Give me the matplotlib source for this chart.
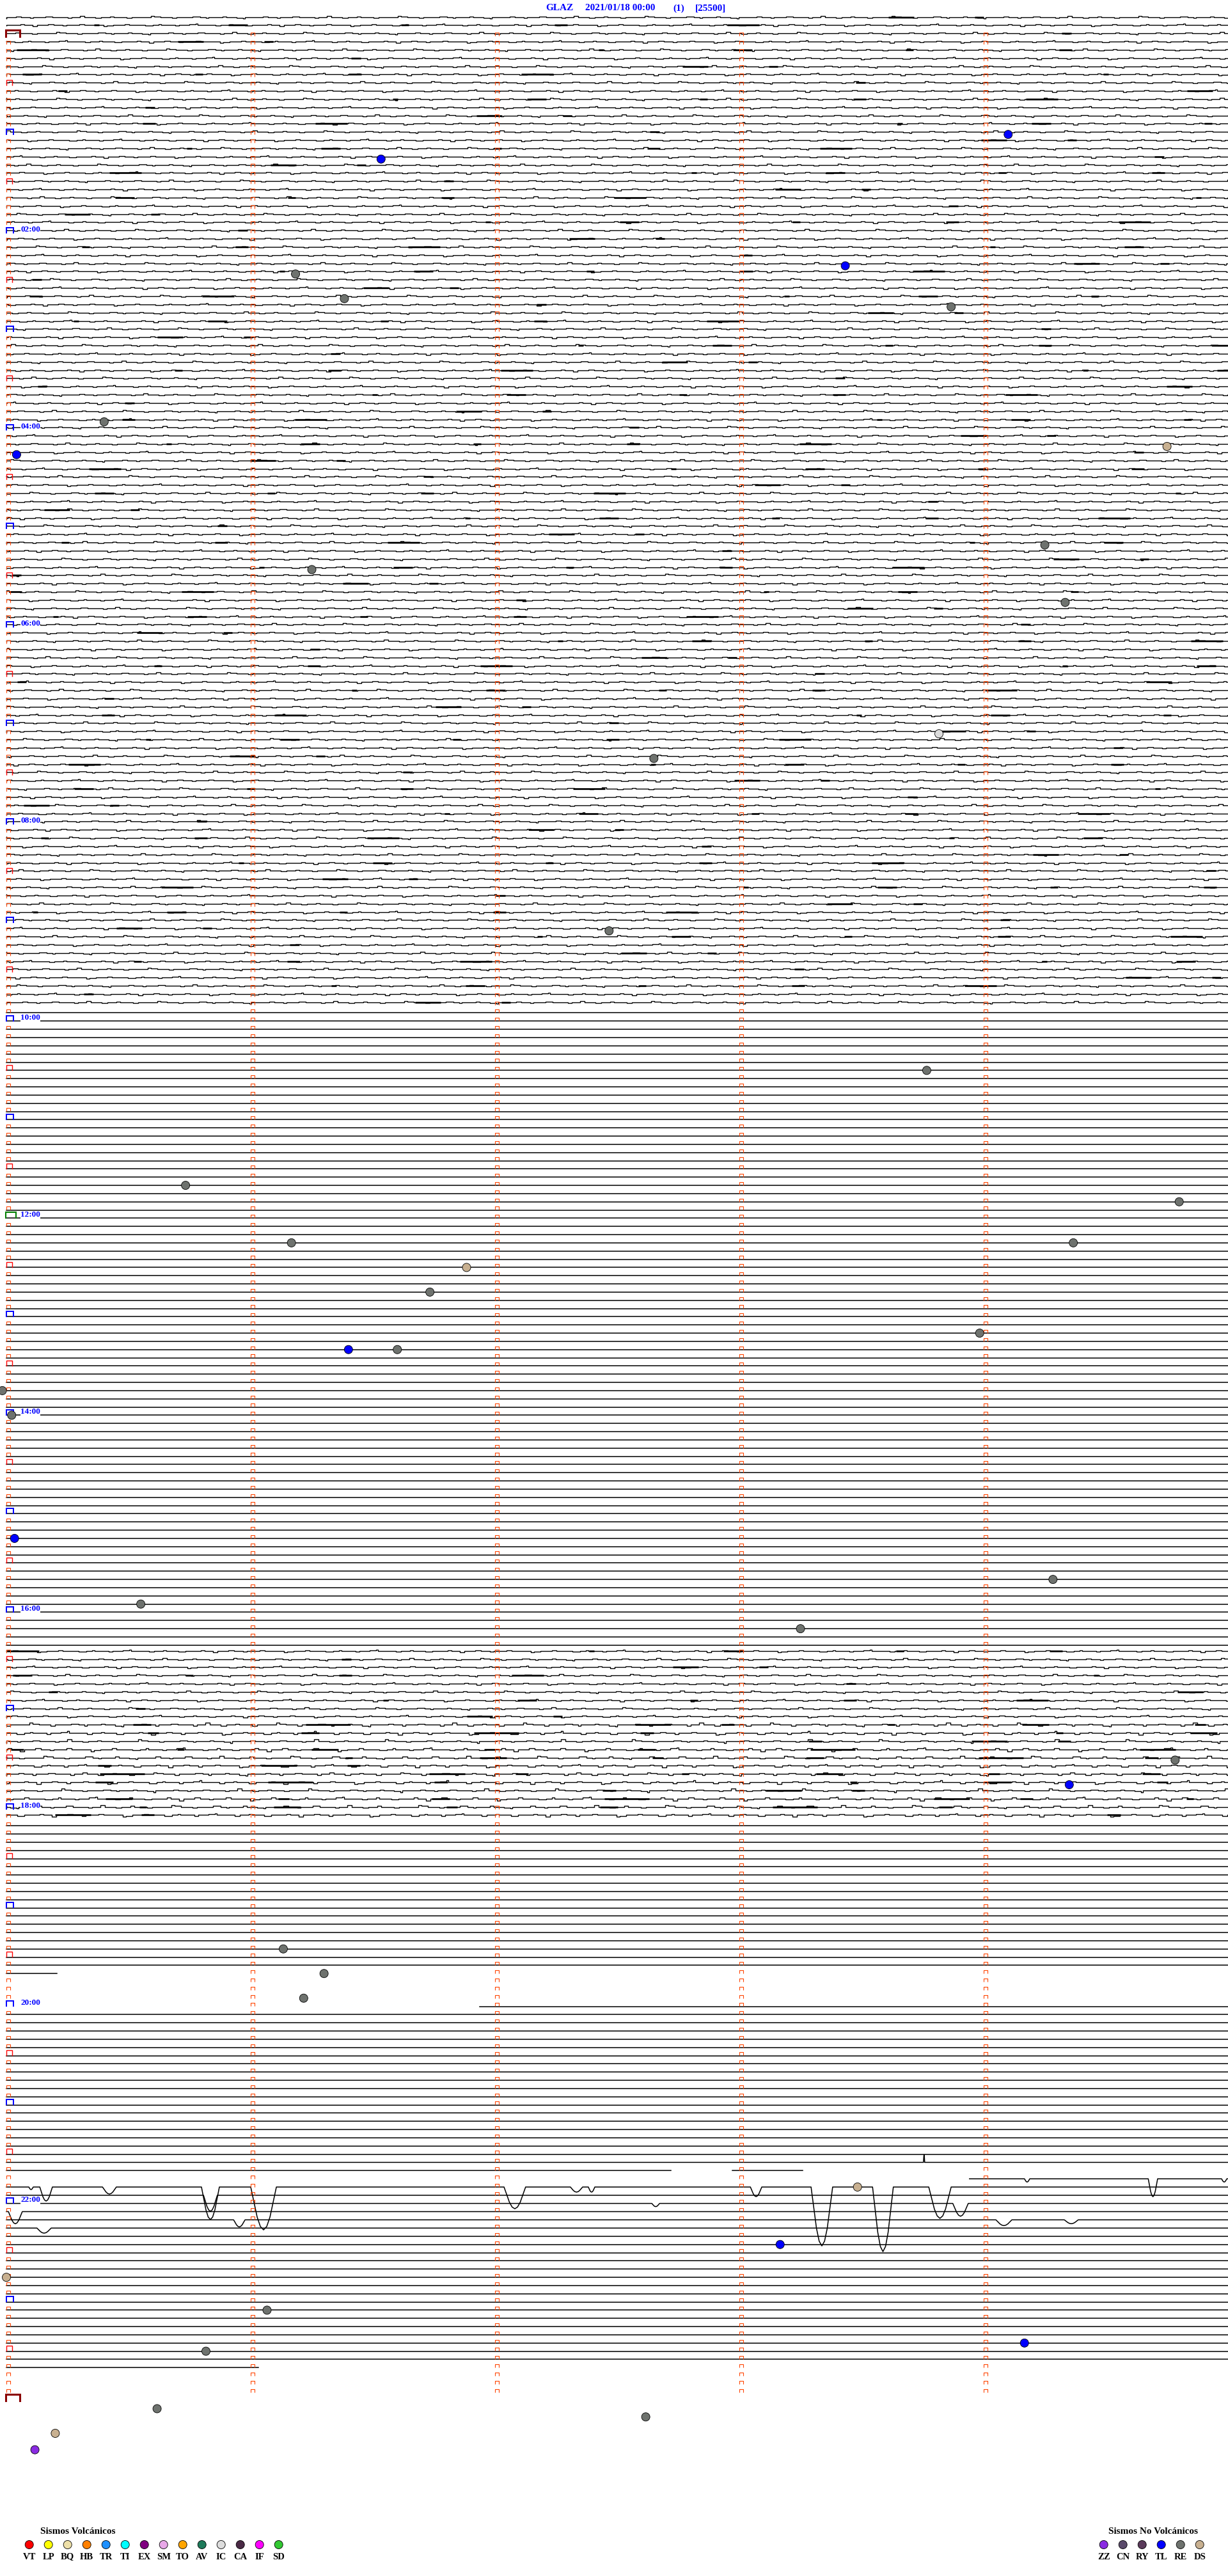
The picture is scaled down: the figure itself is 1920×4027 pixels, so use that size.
import matplotlib
matplotlib.use("Agg")
import matplotlib.pyplot as plt
from matplotlib.collections import LineCollection

W, H, DPI = 1920, 4027, 100
PX_PER_SEC = 6.367      # 382 px per minute, one line = 5 minutes
PX_PER_LINE = 12.835
X0_PX, Y0_PX = 10, 51   # start of minute 0 / centre of line 0 (00:00)

TITLE_PARTS = ["GLAZ", "2021/01/18 00:00", "(1)", "[25500]"]
TITLE_X = [853, 915, 1052, 1087]

FIRST_LINE, LAST_LINE = -2, 287          # line 0 = 00:00, 288 = 24:00
HOUR_LINES = [24, 48, 72, 96, 120, 144, 168, 192, 216, 240, 264]
HOUR_LABELS = ["02:00", "04:00", "06:00", "08:00", "10:00", "12:00",
               "14:00", "16:00", "18:00", "20:00", "22:00"]

# blocks of lines with visible noise: (first, last, relative amplitude)
NOISY_BLOCKS = [(-2, 118, 1.0), (197, 205, 1.0), (206, 217, 1.4)]

# lines where data do not cover the whole 5 minutes (seconds)
TRACE_SEGMENTS = {
    236: [(0, 12.4)], 237: [], 238: [], 239: [],
    240: [(116.2, 300)],
    260: [(0, 163.2), (178.3, 195.6)],
    261: [(236.5, 300)],
    284: [(0, 61.9)], 285: [], 286: [], 287: [],
}

# step pattern (px widths / px offsets)
NOISE_WIDTHS = [14, 6, 20, 8, 30, 5, 10, 18, 7, 25, 12, 9, 4, 22, 6,
                16, 10, 3, 28, 8, 14, 5, 19, 11, 24, 6, 13, 7, 17, 9]
NOISE_LEVELS = [0, -1, 0, 1, 0, -2, -1, 0, 1, 0, -1, 0, 1, 0, -1,
                0, 1, 2, 0, -1, 0, 1, 0, -1, 0, 1, 0, -2, 0, 1]
BURST_START = [5, 140, 400, 610, 880, 1120, 1390, 1650]
BURST_LEN = [40, 14, 8, 30, 12, 20, 50, 15]

# long period arrivals around 22:00: line, start s, end s, depth (lines)
DIP_LINE = [262, 262, 262, 262, 263, 262, 262, 262, 262, 262, 262, 262,
            262, 261, 261, 261, 264, 264, 265, 266, 266, 266, 267, 259]
DIP_START = [5.5, 8.2, 23.6, 47.9, 48.4, 60.0, 122.2, 138.5, 142.9, 182.7,
             197.6, 212.7, 226.5, 250.0, 280.4, 298.4, 158.5, 232.4, 0.5,
             55.8, 243.0, 259.8, 7.5, 225.2]
DIP_END = [6.6, 11.3, 27.0, 52.3, 51.8, 66.3, 127.5, 141.5, 144.5, 185.5,
           202.9, 217.8, 232.0, 251.3, 282.7, 299.7, 160.4, 236.2, 3.9,
           58.6, 246.9, 263.2, 11.0, 225.5]
DIP_DEPTH = [0.31, 1.71, 0.86, 3.97, 1.95, 5.22, 2.65, 0.62, 0.62, 1.17,
             7.17, 7.87, 3.82, 0.39, 2.18, 0.39, 0.39, 1.56, 1.48, 0.86,
             0.70, 0.47, 0.62, -0.93]
DIP_SHAPE = [0, 0.35, 0.7, 0.92, 1.0, 0.92, 0.7, 0.35, 0]

# classified events
EVENT_LINES = [12, 15, 28, 29, 32, 33, 47, 51, 50, 62, 65, 69, 88, 85, 109,
               126, 140, 142, 147, 147, 150, 153, 158, 160, 160, 165, 168,
               183, 188, 191, 194, 210, 213, 233, 236, 239, 262, 269, 273,
               277, 281, 282, 289, 290, 292, 294]
EVENT_SECS = [246, 92, 206, 71, 83, 232, 24, 2.5, 285, 255, 75, 260, 159,
              229, 148, 226, 44, 288, 70, 262, 113, 104, 239, 84, 96, -1,
              1.3, 2, 257, 33, 195, 287, 261, 68, 78, 73, 209, 190, 0, 64,
              250, 49, 37, 157, 12, 7]
EVENT_TYPES = ["TL", "TL", "TL", "RE", "RE", "RE", "RE", "TL", "DS", "RE",
               "RE", "RE", "RE", "IC", "RE", "RE", "RE", "RE", "RE", "RE",
               "DS", "RE", "RE", "TL", "RE", "RE", "RE", "TL", "RE", "RE",
               "RE", "RE", "TL", "RE", "RE", "RE", "DS", "TL", "DS", "RE",
               "TL", "RE", "RE", "RE", "DS", "ZZ"]

VOLC_CODES = ["VT", "LP", "BQ", "HB", "TR", "TI", "EX", "SM", "TO", "AV",
              "IC", "CA", "IF", "SD"]
VOLC_COLORS = ["#FF0000", "#FFFF00", "#EEE0A8", "#FF8000", "#1E90FF",
               "#00FFFF", "#800080", "#E8A8E8", "#FFA500", "#1E7A5A",
               "#DCDCDC", "#4A2A45", "#FF00FF", "#32C832"]
NONVOLC_CODES = ["ZZ", "CN", "RY", "TL", "RE", "DS"]
NONVOLC_COLORS = ["#8A2BE2", "#5A4A6A", "#5A3A5A", "#0000FF", "#6E726E",
                  "#C8B090"]
TYPE_COLORS = dict(zip(VOLC_CODES + NONVOLC_CODES, VOLC_COLORS + NONVOLC_COLORS))

SERIF = ["Liberation Serif", "DejaVu Serif"]
BLUE = "#0000FF"
MARK = "#FF4500"

fig = plt.figure(figsize=(W / DPI, H / DPI), dpi=DPI, facecolor="white")
ax = fig.add_axes([0, 0, 1, 1])
ax.set_xlim(-X0_PX / PX_PER_SEC, (W - X0_PX) / PX_PER_SEC)
ax.set_ylim((H - Y0_PX) / PX_PER_LINE, -Y0_PX / PX_PER_LINE)
ax.axis("off")

amp_of = {}
for a, b, amp in NOISY_BLOCKS:
    for i in range(a, b + 1):
        amp_of[i] = amp


def noisy_xy(i, amp, s0, s1):
    n = len(NOISE_WIDTHS)
    k = (i * 7) % n
    sign = 1 if i % 2 == 0 else -1
    x = s0 - ((i * 37) % 50) / PX_PER_SEC
    xs, ys = [], []
    while x < s1:
        xs.append(max(x, s0))
        ys.append(i + 0.1 + sign * amp * NOISE_LEVELS[k] / PX_PER_LINE)
        x += NOISE_WIDTHS[k] / PX_PER_SEC
        k = (k + 1) % n
    xs.append(s1)
    ys.append(ys[-1])
    return xs, ys


dips_by_line = {}
for ln, s0, s1, d in zip(DIP_LINE, DIP_START, DIP_END, DIP_DEPTH):
    dips_by_line.setdefault(ln, []).append((s0, s1, d))

for i in range(FIRST_LINE, LAST_LINE + 1):
    segs = TRACE_SEGMENTS.get(i, [(0, 300)])
    for s0, s1 in segs:
        if i in amp_of:
            amp = amp_of[i]
            xs, ys = noisy_xy(i, amp, s0, s1)
            ax.plot(xs, ys, drawstyle="steps-post", color="black", lw=1.0,
                    zorder=2)
            # short bursts of high frequency noise look like thick strokes
            shift = (i * 263) % 1900
            for bs, bl in zip(BURST_START, BURST_LEN):
                keep = (i + bs) % 3 == 0 or (amp > 1 and (i + bs) % 3 == 1)
                if not keep:
                    continue
                p = (bs + shift) % 1900
                a0 = max(p / PX_PER_SEC, s0)
                a1 = min((p + bl * amp) / PX_PER_SEC, s1)
                if a1 > a0:
                    ax.plot([a0, a1], [i + 0.1, i + 0.1], color="black",
                            lw=1.9, solid_capstyle="butt", zorder=2)
        else:
            base = i + 0.4
            xs, ys = [s0], [base]
            for d0, d1, d in sorted(dips_by_line.get(i, [])):
                if d1 < s0 or d0 > s1:
                    continue
                m = len(DIP_SHAPE) - 1
                for j, f in enumerate(DIP_SHAPE):
                    xs.append(d0 + (d1 - d0) * j / m)
                    ys.append(base + d * f)
            xs.append(s1)
            ys.append(base)
            ax.plot(xs, ys, color="black", lw=1.1, zorder=2)

# minute marks
w_small, h_small = 6 / PX_PER_SEC, 5 / PX_PER_LINE
small = []
for i in range(0, LAST_LINE + 1):
    for m in range(5):
        if m == 0 and i % 6 == 0:
            continue
        s = 60 * m
        small.append([(s, i + h_small), (s, i), (s + w_small, i),
                      (s + w_small, i + h_small)])
ax.add_collection(LineCollection(small, colors=MARK, linewidths=0.8, zorder=3))


def big_mark(i, s0, s1, top, bot, color, lw):
    ax.plot([s0, s0, s1, s1], [i + bot, i + top, i + top, i + bot],
            color=color, lw=lw, solid_joinstyle="miter", zorder=3)


for i in range(0, 289, 6):
    if i in (0, 288):
        big_mark(i, -0.1, 3.3, -4 / PX_PER_LINE, 6 / PX_PER_LINE, "#8B0000", 2.2)
    elif i == 144:
        big_mark(i, -0.1, 2.4, -4 / PX_PER_LINE, 5 / PX_PER_LINE, "#008000", 1.5)
    elif i % 12 == 0:
        big_mark(i, 0, 1.75, -3 / PX_PER_LINE, 5 / PX_PER_LINE, BLUE, 1.4)
    else:
        big_mark(i, 0, 1.4, -3 / PX_PER_LINE, 5 / PX_PER_LINE, "#FF0000", 1.0)

for ln, lab in zip(HOUR_LINES, HOUR_LABELS):
    ax.text(22 / PX_PER_SEC, ln, lab, color=BLUE, fontsize=9.5,
            fontweight="bold", family=SERIF, ha="left", va="center",
            zorder=4, bbox=dict(facecolor="white", edgecolor="none", pad=0.3))

# events
ax.scatter(EVENT_SECS, [ln + 0.4 for ln in EVENT_LINES], s=88,
           c=[TYPE_COLORS[t] for t in EVENT_TYPES], edgecolors="black",
           linewidths=0.6, zorder=5, clip_on=False)

# title and legends in pixel units
lay = fig.add_axes([0, 0, 1, 1], facecolor="none")
lay.set_xlim(0, W)
lay.set_ylim(H, 0)
lay.axis("off")

for txt, x in zip(TITLE_PARTS, TITLE_X):
    lay.text(x, 13, txt, color=BLUE, fontsize=11, fontweight="bold",
             family=SERIF, ha="left", va="center")

lay.text(63, 3957, "Sismos Volcánicos", fontsize=11, fontweight="bold",
         family=SERIF, ha="left", va="center")
lay.text(1733, 3957, "Sismos No Volcánicos", fontsize=11, fontweight="bold",
         family=SERIF, ha="left", va="center")

for x0, codes, cols in [(45.7, VOLC_CODES, VOLC_COLORS),
                        (1725.7, NONVOLC_CODES, NONVOLC_COLORS)]:
    xs = [x0 + 30 * k for k in range(len(codes))]
    lay.scatter(xs, [3978] * len(xs), s=88, c=cols, edgecolors="black",
                linewidths=0.6)
    for x, code in zip(xs, codes):
        lay.text(x, 3997, code, fontsize=10.5, fontweight="bold",
                 family=SERIF, ha="center", va="center")

fig.savefig("out.png", dpi=DPI, facecolor="white")
